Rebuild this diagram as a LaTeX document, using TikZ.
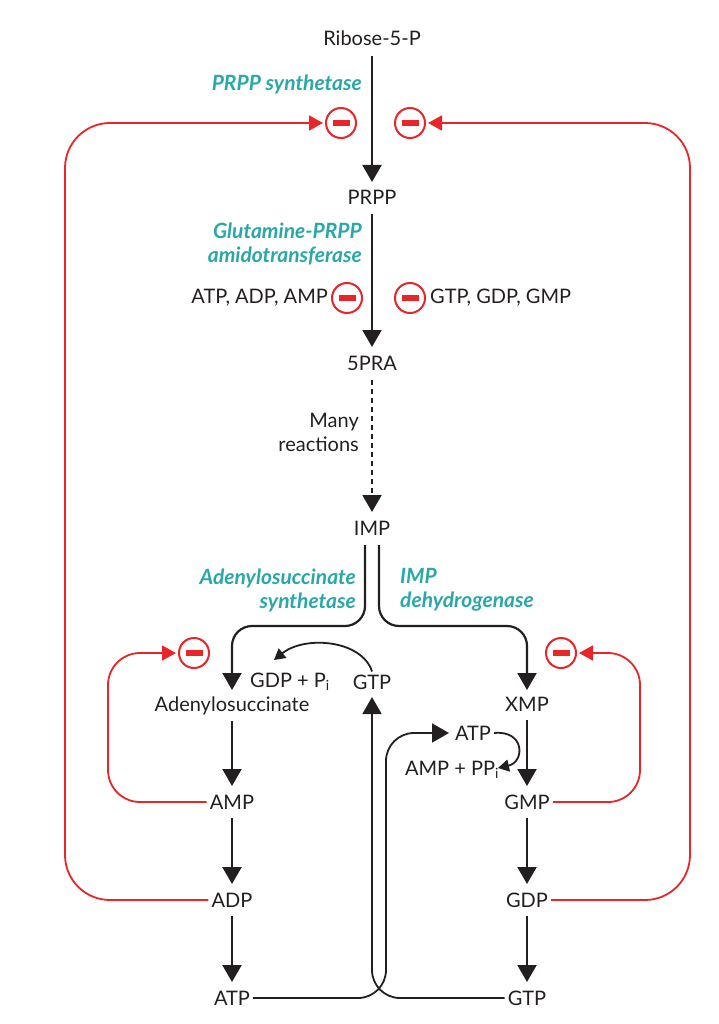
\documentclass[tikz,border=0pt]{standalone}
\usepackage{fontspec}
\setmainfont{Lato}
\usetikzlibrary{arrows.meta}
\definecolor{teal2}{HTML}{2AA8A8}
\definecolor{red2}{HTML}{E8262A}
\definecolor{txt}{HTML}{231F20}
\tikzset{
 lbl/.style={font=\fontsize{20}{24}\selectfont, text=txt, inner sep=3pt},
 enz/.style={font=\fontsize{21}{24}\selectfont\bfseries\itshape, text=teal2, align=right, inner sep=0pt},
 enzl/.style={enz, align=left},
 main/.style={line width=2.2pt, draw=txt, -{Triangle[width=19pt,length=17pt]}},
 thin/.style={line width=1.8pt, draw=txt},
 red/.style={line width=1.8pt, draw=red2},
 redarr/.style={red, -{Triangle[width=15pt,length=14pt]}},
 inhib/.style={circle, draw=red2, line width=2pt, minimum size=30pt, inner sep=0pt,
   path picture={\fill[red2] ([xshift=-8.5pt,yshift=-2.6pt]path picture bounding box.center) rectangle ([xshift=8.5pt,yshift=2.6pt]path picture bounding box.center);}}
}
\begin{document}
\begin{tikzpicture}[x=1pt,y=-1pt]
\useasboundingbox (0,0) rectangle (719,1024);
% nodes
\node[lbl] (rib) at (372,38) {Ribose-5-P};
\node[lbl] (prpp) at (372,197) {PRPP};
\node[lbl] (pra) at (372,363) {5PRA};
\node[lbl] (imp) at (372,528) {IMP};
\node[enz, anchor=east] (e1) at (362,84) {PRPP synthetase};
\node[enz, anchor=east] (e2) at (362,244) {Glutamine-PRPP\\amidotransferase};
\node[lbl, align=right, anchor=east] (many) at (362,432) {Many\\reactions};
\node[enz, anchor=east] (e3) at (356,590) {Adenylosuccinate\\synthetase};
\node[enzl, anchor=west] (e4) at (400,590) {IMP\\dehydrogenase};
\node[inhib] (i1) at (341,123) {};
\node[inhib] (i2) at (410,123) {};
\node[inhib] (i3) at (347,298) {};
\node[inhib] (i4) at (410,298) {};
\node[inhib] (i5) at (194,653) {};
\node[inhib] (i6) at (561,653) {};
\node[lbl, anchor=east] (aaa) at (331,298) {ATP, ADP, AMP};
\node[lbl, anchor=west] (ggg) at (427,298) {GTP, GDP, GMP};
\node[lbl] (gdppi) at (290,682) {GDP + P\textsubscript{i}};
\node[lbl] (gtp1) at (372,682) {GTP};
\node[lbl] (ados) at (232,706) {Adenylosuccinate};
\node[lbl] (xmp) at (527,704) {XMP};
\node[lbl] (atp1) at (473,733) {ATP};
\node[lbl] (amppp) at (452,770) {AMP + PP\textsubscript{i}};
\node[lbl] (amp) at (232,802) {AMP};
\node[lbl] (adp) at (232,900) {ADP};
\node[lbl] (atp) at (232,998) {ATP};
\node[lbl] (gmp) at (527,802) {GMP};
\node[lbl] (gdp) at (527,900) {GDP};
\node[lbl] (gtp) at (527,998) {GTP};
% main chain
\draw[main] (372,56) -- (372,182);
\draw[main] (372,214) -- (372,347);
\draw[main, dashed, dash pattern=on 5pt off 4pt] (372,380) -- (372,512);
\draw[main, rounded corners=20pt] (365,545) -- (365,626) -- (232,626) -- (232,690);
\draw[main, rounded corners=20pt] (379,545) -- (379,626) -- (527,626) -- (527,690);
\draw[main] (232,721) -- (232,786);
\draw[main] (232,818) -- (232,884);
\draw[main] (232,916) -- (232,982);
\draw[main] (527,720) -- (527,786);
\draw[main] (527,818) -- (527,884);
\draw[main] (527,916) -- (527,982);
% side reactions
\draw[thin, -{Triangle[width=12pt,length=11pt]}] (gtp1.north) .. controls (362,640) and (305,635) .. (274,660);
\draw[thin, -{Triangle[width=12pt,length=11pt]}] (atp1.east) .. controls (525,730) and (525,762) .. (498,768);
\draw[thin, rounded corners=28pt, -{Triangle[width=19pt,length=17pt]}] (gtp.west) -- (372,998) -- (372,697);
\draw[thin, rounded corners=28pt, -{Triangle[width=19pt,length=17pt]}] (atp.east) -- (386,998) -- (386,733) -- (449,733);
% red feedback
\draw[redarr, rounded corners=32pt] (amp.west) -- (108,802) -- (108,653) -- (176,653);
\draw[redarr, rounded corners=32pt] (gmp.east) -- (640,802) -- (640,653) -- (579,653);
\draw[redarr, rounded corners=45pt] (adp.west) -- (65,900) -- (65,123) -- (323,123);
\draw[redarr, rounded corners=45pt] (gdp.east) -- (690,900) -- (690,123) -- (428,123);
\end{tikzpicture}
\end{document}
